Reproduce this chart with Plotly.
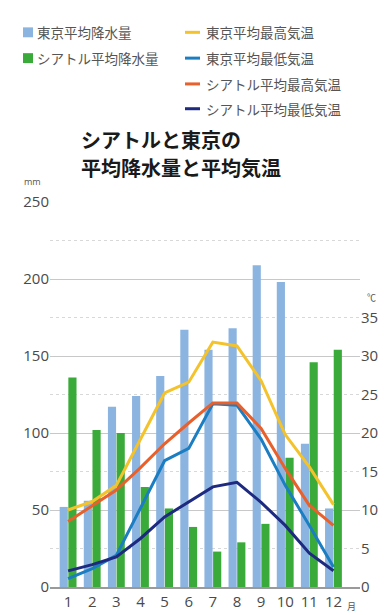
import plotly.graph_objects as go

months = [1, 2, 3, 4, 5, 6, 7, 8, 9, 10, 11, 12]
month_labels = [str(m) for m in months]
tokyo_precip = [52, 56, 117, 124, 137, 167, 154, 168, 209, 198, 93, 51]
seattle_precip = [136, 102, 100, 65, 51, 39, 23, 29, 41, 84, 146, 154]
tokyo_max = [10.0, 11.1, 13.2, 19.1, 25.2, 26.6, 31.8, 31.3, 26.8, 19.8, 15.6, 10.7]
tokyo_min = [1.1, 2.4, 4.1, 10.2, 16.4, 18.0, 23.8, 23.6, 19.2, 13.2, 8.0, 2.6]
seattle_max = [8.5, 10.6, 12.6, 15.5, 18.6, 21.3, 23.9, 23.9, 20.6, 15.4, 10.6, 8.0]
seattle_min = [2.1, 2.9, 3.9, 6.3, 9.1, 11.0, 13.0, 13.6, 11.0, 8.0, 4.4, 2.1]

precip_ticks = [0, 50, 100, 150, 200, 250]
temp_ticks = [0, 5, 10, 15, 20, 25, 30, 35]

names_bar = ["東京平均降水量", "シアトル平均降水量"]
names_line = ["東京平均最高気温", "東京平均最低気温", "シアトル平均最高気温", "シアトル平均最低気温"]
title_lines = ["シアトルと東京の", "平均降水量と平均気温"]
bar_colors = ["#8cb4e0", "#3aab3a"]
line_colors = ["#f4c22b", "#1b7dc2", "#e8602c", "#1e2a80"]

W, H = 389, 615
L, R, T, B = 42, 352, 194, 582

def px(x):
    return (x - L) / (R - L)

def py(y):
    return (B - y) / (B - T)

fig = go.Figure()
for name, vals, col in zip(names_bar, [tokyo_precip, seattle_precip], bar_colors):
    fig.add_trace(go.Bar(x=months, y=vals, name=name, marker_color=col,
                         marker_line_width=0, yaxis="y", showlegend=False))
for name, vals, col in zip(names_line, [tokyo_max, tokyo_min, seattle_max, seattle_min], line_colors):
    fig.add_trace(go.Scatter(x=months, y=vals, name=name, mode="lines",
                             line=dict(color=col, width=3), yaxis="y2", showlegend=False))

tick_font = dict(family="Open Sans, Noto Sans, sans-serif", size=15, color="#4a4a4a")

fig.update_layout(
    width=W, height=H,
    margin=dict(l=L, r=W - R, t=T, b=H - B),
    paper_bgcolor="white", plot_bgcolor="white",
    barmode="group", bargap=0.28, bargroupgap=0.06,
    font=dict(family="Noto Sans CJK JP, sans-serif"),
    xaxis=dict(range=[0.25, 13.1], tickvals=months, ticktext=month_labels,
               showgrid=False, zeroline=False, showline=True, linecolor="#9a9a9a",
               linewidth=1.5, ticks="", tickfont=tick_font),
    yaxis=dict(range=[0, 250], tickvals=precip_ticks, showgrid=True,
               gridcolor="#c8c8c8", gridwidth=1, zeroline=False, showline=False,
               ticks="", tickfont=tick_font,
               minor=dict(dtick=25, showgrid=True, gridcolor="#d8d8d8", griddash="dot", gridwidth=1)),
    yaxis2=dict(range=[0, 50], tickvals=temp_ticks, overlaying="y", side="right",
                showgrid=False, zeroline=False, showline=False,
                ticks="", tickfont=tick_font),
)

# Title (two lines)
for line, yc in zip(title_lines, [131, 159]):
    fig.add_annotation(text="<b>" + line + "</b>", xref="paper", yref="paper",
                       x=px(72), y=py(yc), xanchor="left", yanchor="middle", showarrow=False,
                       borderpad=0, font=dict(family="Noto Sans CJK JP", size=20, color="#1a1a1a"))
# Unit labels
fig.add_annotation(text="mm", xref="paper", yref="paper", x=px(24), y=py(173),
                   xanchor="center", yanchor="middle", showarrow=False,
                   font=dict(family="Open Sans", size=9, color="#555"))
fig.add_annotation(text="℃", xref="paper", yref="paper", x=px(363), y=py(290),
                   xanchor="center", yanchor="middle", showarrow=False,
                   font=dict(family="Noto Sans CJK JP", size=9, color="#555"))
fig.add_annotation(text="月", xref="paper", yref="paper", x=px(343), y=py(602),
                   xanchor="center", yanchor="middle", showarrow=False,
                   font=dict(family="Noto Sans CJK JP", size=9, color="#555"))

# Legend
leg_font = dict(family="Noto Sans CJK JP", size=13.5, color="#555")
rows = [23, 49, 75, 100]
for i, (name, col) in enumerate(zip(names_bar, bar_colors)):
    yc = rows[i]
    fig.add_shape(type="rect", xref="paper", yref="paper", x0=px(15), x1=px(25),
                  y0=py(yc + 5), y1=py(yc - 5), fillcolor=col, line_width=0)
    fig.add_annotation(text=name, xref="paper", yref="paper", x=px(27), y=py(yc),
                       xanchor="left", yanchor="middle", showarrow=False, font=leg_font)
for i, (name, col) in enumerate(zip(names_line, line_colors)):
    yc = rows[i]
    fig.add_shape(type="line", xref="paper", yref="paper", x0=px(177), x1=px(192),
                  y0=py(yc), y1=py(yc), line=dict(color=col, width=3))
    fig.add_annotation(text=name, xref="paper", yref="paper", x=px(196), y=py(yc),
                       xanchor="left", yanchor="middle", showarrow=False, font=leg_font)

fig.write_html("out.html")
